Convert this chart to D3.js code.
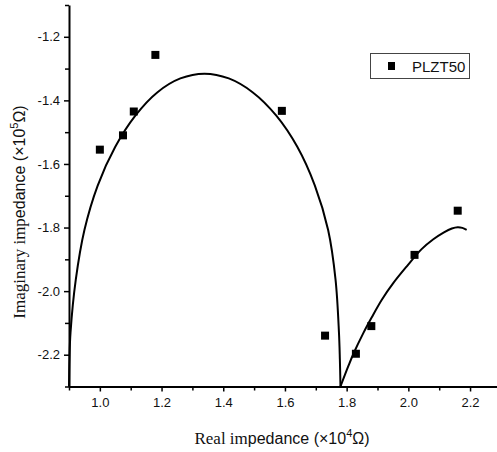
<!DOCTYPE html>
<html>
<head>
<meta charset="utf-8">
<script src="https://cdn.jsdelivr.net/npm/d3@7"></script>
<style>
  html, body { margin: 0; padding: 0; background: #fff; }
  svg { display: block; }
</style>
</head>
<body>
<svg id="chart" width="497" height="452"></svg>
<script>
// ---- data ----
const seriesName = "PLZT50";
const realZ = [1.00, 1.075, 1.11, 1.18, 1.59, 1.73, 1.83, 1.88, 2.02, 2.16];
const imagZ = [-1.555, -1.51, -1.435, -1.257, -1.433, -2.14, -2.197, -2.11, -1.886, -1.747];

// fitted arc 1
const fit1X = [0.900, 0.9015, 0.905, 0.922, 0.950, 0.993, 1.050, 1.115, 1.186, 1.261, 1.339, 1.418, 1.496, 1.572, 1.640, 1.697, 1.740, 1.764, 1.775, 1.778, 1.780];
const fit1Y = [-2.300, -2.214, -2.129, -1.964, -1.808, -1.668, -1.546, -1.448, -1.375, -1.331, -1.316, -1.331, -1.375, -1.448, -1.546, -1.668, -1.808, -1.964, -2.129, -2.214, -2.300];
// fitted arc 2
const fit2X = [1.780, 1.805, 1.822, 1.854, 1.881, 1.914, 1.951, 1.995, 2.043, 2.081, 2.114, 2.141, 2.160, 2.175, 2.189];
const fit2Y = [-2.300, -2.237, -2.197, -2.132, -2.083, -2.027, -1.975, -1.922, -1.868, -1.837, -1.816, -1.803, -1.799, -1.801, -1.807];

const xTickVals = [1.0, 1.2, 1.4, 1.6, 1.8, 2.0, 2.2];
const xMinorVals = [0.9, 1.1, 1.3, 1.5, 1.7, 1.9, 2.1];
const yTickVals = [-2.2, -2.0, -1.8, -1.6, -1.4, -1.2];
const yMinorVals = [-2.3, -2.1, -1.9, -1.7, -1.5, -1.3, -1.1];

// ---- chart ----
const svg = d3.select("#chart");
const x = d3.scaleLinear().domain([0.9, 2.3]).range([69, 500.9]);
const y = d3.scaleLinear().domain([-2.3, -1.1]).range([386.5, 5]);

const sans = "'Liberation Sans', Arial, sans-serif";
const serif = "'Liberation Serif', 'Times New Roman', serif";

// x axis
const xAxis = svg.append("g").attr("transform", `translate(0,${y(-2.3)})`)
  .call(d3.axisBottom(x).tickValues(xTickVals).tickFormat(d3.format(".1f")).tickSize(5).tickPadding(6).tickSizeOuter(0));
xAxis.select(".domain").attr("stroke-width", 2.2);
xAxis.selectAll(".tick line").attr("stroke-width", 1.5);
xAxis.selectAll("text").attr("font-family", sans).attr("font-size", 13).attr("fill", "#111");
const xMinor = svg.append("g").attr("transform", `translate(0,${y(-2.3)})`)
  .call(d3.axisBottom(x).tickValues(xMinorVals).tickFormat("").tickSize(4).tickSizeOuter(0));
xMinor.select(".domain").remove();
xMinor.selectAll(".tick line").attr("stroke-width", 1.5);

// y axis
const yAxis = svg.append("g").attr("transform", `translate(${x(0.9)},0)`)
  .call(d3.axisLeft(y).tickValues(yTickVals).tickFormat(d3.format(".1f")).tickSize(5).tickPadding(4).tickSizeOuter(0));
yAxis.select(".domain").attr("stroke-width", 2);
yAxis.selectAll(".tick line").attr("stroke-width", 1.5);
yAxis.selectAll("text").attr("font-family", sans).attr("font-size", 13).attr("fill", "#111")
  .text(d => d3.format(".1f")(d).replace("−", "-"));
const yMinor = svg.append("g").attr("transform", `translate(${x(0.9)},0)`)
  .call(d3.axisLeft(y).tickValues(yMinorVals).tickFormat("").tickSize(4).tickSizeOuter(0));
yMinor.select(".domain").remove();
yMinor.selectAll(".tick line").attr("stroke-width", 1.5);

// fit lines
const line = d3.line().x(d => x(d[0])).y(d => y(d[1])).curve(d3.curveCatmullRom.alpha(0.5));
svg.append("path").datum(fit1X.map((v, i) => [v, fit1Y[i]]))
  .attr("d", line).attr("fill", "none").attr("stroke", "#000").attr("stroke-width", 2);
svg.append("path").datum(fit2X.map((v, i) => [v, fit2Y[i]]))
  .attr("d", line).attr("fill", "none").attr("stroke", "#000").attr("stroke-width", 2);

// points
const ms = 8;
svg.append("g").selectAll("rect").data(realZ.map((v, i) => [v, imagZ[i]])).join("rect")
  .attr("x", d => x(d[0]) - ms / 2).attr("y", d => y(d[1]) - ms / 2)
  .attr("width", ms).attr("height", ms).attr("fill", "#000");

// legend
const lg = svg.append("g");
lg.append("rect").attr("x", 370.5).attr("y", 53.5).attr("width", 99).attr("height", 25)
  .attr("fill", "#fff").attr("stroke", "#444").attr("stroke-width", 1);
lg.append("rect").attr("x", 388).attr("y", 62).attr("width", 7).attr("height", 8).attr("fill", "#000");
lg.append("text").attr("x", 412).attr("y", 72).attr("font-family", sans).attr("font-size", 15)
  .attr("fill", "#111").text(seriesName);

// axis titles
const xt = svg.append("text").attr("x", 282).attr("y", 444).attr("text-anchor", "middle")
  .attr("font-size", 16).attr("fill", "#111");
xt.append("tspan").attr("font-family", serif).attr("font-size", 17).text("Real im");
xt.append("tspan").attr("font-family", sans).text("pedance (×10");
xt.append("tspan").attr("font-family", sans).attr("font-size", 11).attr("dy", -7).text("4");
xt.append("tspan").attr("font-family", sans).attr("dy", 7).text("Ω)");

const yt = svg.append("text").attr("transform", "translate(25,212) rotate(-90)").attr("text-anchor", "middle")
  .attr("font-size", 16).attr("fill", "#111");
yt.append("tspan").attr("font-family", serif).attr("font-size", 17).text("Imaginary imp");
yt.append("tspan").attr("font-family", sans).text("edance (×10");
yt.append("tspan").attr("font-family", sans).attr("font-size", 11).attr("dy", -7).text("5");
yt.append("tspan").attr("font-family", sans).attr("dy", 7).text("Ω)");
</script>
</body>
</html>
